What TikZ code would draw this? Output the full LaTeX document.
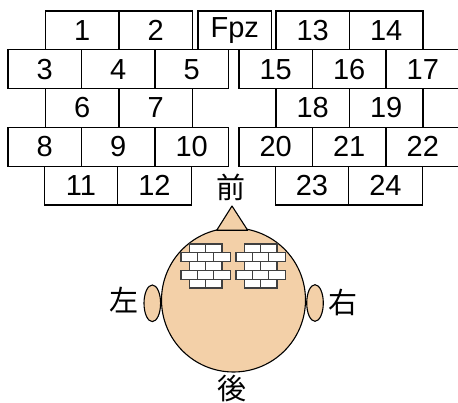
\documentclass[tikz,border=0pt]{standalone}
\usepackage{fontspec}
\setmainfont{Liberation Sans}
\newfontfamily\jpfont{Noto Sans CJK JP}
\usetikzlibrary{shapes.geometric}
\definecolor{skin}{RGB}{243,208,168}

\begin{document}
\begin{tikzpicture}[
        x=1pt, y=-1pt,
        every node/.style={font=\fontsize{29}{29}\selectfont},
        box/.style={draw, line width=1.1pt, minimum width=73.5pt, minimum height=38.8pt, inner sep=0pt},
        ear/.style={ellipse, draw, fill=skin, line width=1.1pt, minimum width=16.6pt, minimum height=36.6pt, inner sep=0pt},
        brick/.style={draw=black!75, fill=white, line width=1.3pt},
        dirtext/.style={font=\jpfont\fontsize{29}{29}\selectfont, inner sep=0pt}
    ]
        \useasboundingbox (0,0) rectangle (458,403);

        % Hàng 1
        \node[box] (e1) at (82.25,30.4) {1};
        \node[box] (e2) at (155.75,30.4) {2};
        \node[box] (fpz) at (234.75,30.4) {Fpz};
        \node[box] (e13) at (312.75,30.4) {13};
        \node[box] (e14) at (386.25,30.4) {14};
        % Hàng 2
        \node[box] (e3) at (44.75,69.2) {3};
        \node[box] (e4) at (118.25,69.2) {4};
        \node[box] (e5) at (191.75,69.2) {5};
        \node[box] (e15) at (275.75,69.2) {15};
        \node[box] (e16) at (349.25,69.2) {16};
        \node[box] (e17) at (422.75,69.2) {17};
        % Hàng 3
        \node[box] (e6) at (82.25,108) {6};
        \node[box] (e7) at (155.75,108) {7};
        \node[box] (e18) at (312.75,108) {18};
        \node[box] (e19) at (386.25,108) {19};
        % Hàng 4
        \node[box] (e8) at (44.75,146.8) {8};
        \node[box] (e9) at (118.25,146.8) {9};
        \node[box] (e10) at (191.75,146.8) {10};
        \node[box] (e20) at (275.75,146.8) {20};
        \node[box] (e21) at (349.25,146.8) {21};
        \node[box] (e22) at (422.75,146.8) {22};
        % Hàng 5
        \node[box] (e11) at (81,185.6) {11};
        \node[box] (e12) at (154.5,185.6) {12};
        \node[box] (e23) at (312,185.6) {23};
        \node[box] (e24) at (385.5,185.6) {24};

        % Vẽ đầu
        \node[ear] (earL) at (152.3,303.3) {};
        \node[ear] (earR) at (315,303) {};
        \node[circle, draw, fill=skin, line width=1.1pt, minimum size=144pt, inner sep=0pt] (head) at (233.5,300) {};
        \draw[fill=skin, line width=1.1pt, line join=round] (216.7,230.3) -- (232,206) -- (247.7,230.3) -- cycle;

        % Gạch nhỏ trên đầu
        \foreach \ox in {181,236}
            \foreach \r/\n/\s in {0/1/8.2, 1/2/0, 2/1/8.2, 3/2/0, 4/1/8.2}
                \foreach \c in {0,...,\n}
                    \draw[brick] ({\ox+\s+16.4*\c},{244+8.8*\r}) rectangle ++(16.4,8.8);

        % Hướng
        \node[dirtext] (front) at (231,187) {前};
        \node[dirtext] (lside) at (124,300.5) {左};
        \node[dirtext] (rside) at (342.5,302.5) {右};
        \node[dirtext] (back) at (232,388.5) {後};
    \end{tikzpicture}
\end{document}
